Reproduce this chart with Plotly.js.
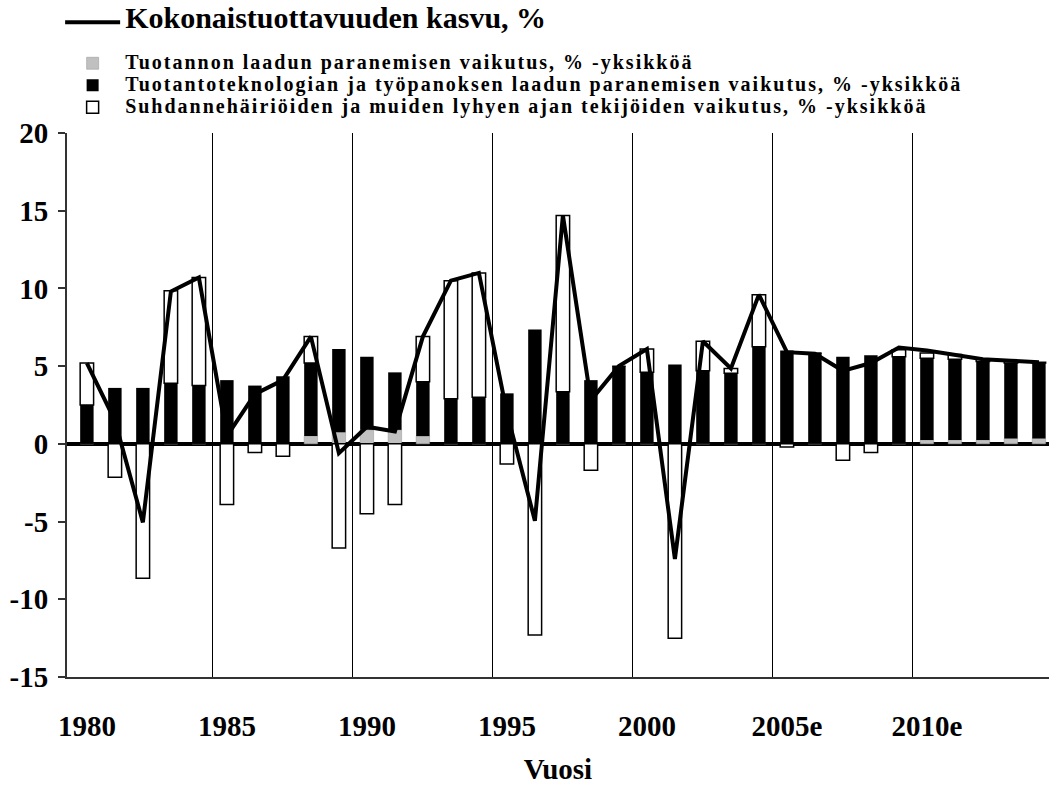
<!DOCTYPE html>
<html>
<head>
<meta charset="utf-8">
<script src="https://cdn.plot.ly/plotly-3.0.1.min.js"></script>
<style>
html,body{margin:0;padding:0;background:#fff;}
#chart{width:1049px;height:785px;}
</style>
</head>
<body>
<div id="chart"></div>
<script>
// ---- data ----
const years = [1980,1981,1982,1983,1984,1985,1986,1987,1988,1989,
               1990,1991,1992,1993,1994,1995,1996,1997,1998,1999,
               2000,2001,2002,2003,2004,2005,2006,2007,2008,2009,
               2010,2011,2012,2013,2014];

// Tuotannon laadun paranemisen vaikutus (grey)
const qualityEffect = [0,0,0,0,0,0,0,0,0.5,0.75,
                       0.9,0.9,0.5,0,0,0,0,0,0,0,
                       0,0,0,0,0,0,0,0,0,0,
                       0.25,0.25,0.25,0.35,0.35];

// Tuotantoteknologian ja työpanoksen laadun paranemisen vaikutus (black)
const technologyEffect = [2.5,3.6,3.6,3.9,3.75,4.1,3.75,4.35,4.7,5.35,
                          4.7,3.7,3.5,2.9,3.0,3.25,7.35,3.35,4.1,5.0,
                          4.6,5.1,4.7,4.55,6.25,6.0,5.85,5.6,5.7,5.6,
                          5.25,5.2,5.05,4.85,4.85];

// Suhdannehäiriöiden ja muiden lyhyen ajan tekijöiden vaikutus (white)
const cyclicalEffect = [2.7,-2.15,-8.65,5.95,6.95,-3.9,-0.55,-0.8,1.7,-6.7,
                        -4.5,-3.9,2.9,7.6,8.0,-1.3,-12.3,11.35,-1.7,0,
                        1.5,-12.5,1.9,0.3,3.35,-0.2,0,-1.05,-0.55,0.45,
                        0.35,0.3,0.15,0.15,0.05];

// Kokonaistuottavuuden kasvu, % (line)
const totalGrowth = [5.2,1.5,-5.05,9.8,10.7,0.5,3.2,4.1,6.9,-0.6,
                     1.1,0.8,6.9,10.5,11.0,2.0,-4.95,14.7,2.8,5.0,
                     6.1,-7.4,6.6,4.85,9.6,5.9,5.8,4.7,5.2,6.2,
                     6.0,5.75,5.45,5.35,5.25];

const xTickYears  = [1980,1985,1990,1995,2000,2005,2010];
const xTickLabels = ['1980','1985','1990','1995','2000','2005e','2010e'];
const yTickValues = [20,15,10,5,0,-5,-10,-15];
const yTickLabels = ['20','15','10','5','0','-5','-10','-15'];

const seriesNames = {
  total: 'Kokonaistuottavuuden kasvu, %',
  quality: 'Tuotannon laadun paranemisen vaikutus, % -yksikköä',
  technology: 'Tuotantoteknologian ja työpanoksen laadun paranemisen vaikutus, % -yksikköä',
  cyclical: 'Suhdannehäiriöiden ja muiden lyhyen ajan tekijöiden vaikutus, % -yksikköä'
};

// vertical separators sit on the category boundary before each labelled year
const separatorPositions = xTickYears.slice(1).map(y => y - 0.5);

// ---- chart ----
const serif = 'Liberation Serif, Times New Roman, serif';
const big = t => '<span style="font-size:30px;font-weight:bold">' + t + '</span>';
const small = t => '<span style="font-size:20px;font-weight:bold;letter-spacing:2px">' + t + '</span>';

const traces = [
  {
    type: 'scatter', mode: 'lines', x: years, y: totalGrowth,
    name: big(seriesNames.total), legendgroup: 'a',
    line: {color: '#000', width: 4}
  },
  {
    type: 'bar', x: years, y: qualityEffect,
    name: small(seriesNames.quality), legendgroup: 'b',
    marker: {color: '#c0c0c0', line: {color: '#909090', width: 0.5}}
  },
  {
    type: 'bar', x: years, y: technologyEffect,
    name: small(seriesNames.technology), legendgroup: 'b',
    marker: {color: '#000', line: {color: '#000', width: 0}}
  },
  {
    type: 'bar', x: years, y: cyclicalEffect,
    name: small(seriesNames.cyclical), legendgroup: 'b',
    marker: {color: '#fff', line: {color: '#000', width: 1.5}}
  }
];

const layout = {
  width: 1049, height: 785,
  margin: {l: 67, r: 0, t: 133, b: 108, pad: 0},
  paper_bgcolor: '#fff', plot_bgcolor: '#fff',
  barmode: 'relative', bargap: 0.52,
  font: {family: serif, size: 24, color: '#000', weight: 'bold'},
  showlegend: true,
  legend: {
    x: -0.007, xanchor: 'left', y: 1.2329, yanchor: 'top',
    font: {family: serif, size: 14.6, color: '#000', weight: 'bold'},
    traceorder: 'grouped', tracegroupgap: 19, itemwidth: 55,
    bgcolor: 'rgba(0,0,0,0)', borderwidth: 0
  },
  xaxis: {
    range: [1979.29, 2014.36],
    tickmode: 'array', tickvals: xTickYears, ticktext: xTickLabels,
    ticks: 'outside', ticklen: 22, tickcolor: 'rgba(0,0,0,0)',
    showgrid: false, zeroline: false,
    showline: true, linecolor: '#333', linewidth: 2,
    tickfont: {family: serif, size: 29, color: '#000', weight: 'bold'},
    minor: {tickmode: 'array', tickvals: separatorPositions, showgrid: true, gridcolor: '#000', gridwidth: 1, ticks: ''},
    title: {text: 'Vuosi', font: {family: serif, size: 29, color: '#000', weight: 'bold'}, standoff: 22}
  },
  yaxis: {
    range: [-15, 20],
    tickmode: 'array', tickvals: yTickValues, ticktext: yTickLabels,
    ticks: 'outside', ticklen: 7, tickwidth: 2, tickcolor: '#333',
    showgrid: false,
    showline: true, linecolor: '#333', linewidth: 2,
    zeroline: true, zerolinecolor: '#000', zerolinewidth: 4,
    tickfont: {family: serif, size: 29, color: '#000', weight: 'bold'},
    ticklabelstandoff: 4
  }
};

Plotly.newPlot('chart', traces, layout, {displayModeBar: false, staticPlot: true});
</script>
</body>
</html>
